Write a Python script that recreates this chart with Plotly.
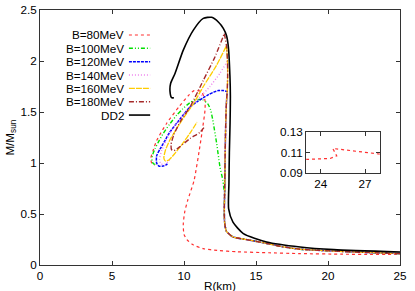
import plotly.graph_objects as go

# ---------------- data (R in km, M in Msun) ----------------
# shared hadronic branch used by B=100..180 (low mass -> high mass)
R_had = [25.0, 22.5, 20.4, 18.06, 16.8, 15.97, 14.58, 14.1, 13.4, 12.95, 12.82, 12.8, 12.82, 12.85, 12.9, 12.95, 13.0, 13.03, 13.02, 12.95, 12.8]
M_had = [0.112, 0.124, 0.137, 0.155, 0.18, 0.205, 0.243, 0.255, 0.275, 0.33, 0.42, 0.55, 0.7, 1.0, 1.4, 1.6, 1.7, 1.85, 2.0, 2.15, 2.27]

R_b80 = [28.0, 27.0, 26.0, 25.5, 25.19, 24.81, 25.08, 24.63, 24.0, 23.09, 21.0, 18.0, 15.9, 13.66, 12.3, 11.34, 10.6, 10.2, 10.0, 9.95, 10.05, 10.25, 10.7, 11.1, 11.25, 11.46, 11.45, 11.2, 10.7, 10.3, 9.7, 8.8, 8.1, 7.85, 7.7, 7.75, 7.99]
M_b80 = [0.1084, 0.110, 0.1112, 0.1122, 0.1132, 0.1138, 0.1067, 0.1042, 0.1038, 0.1033, 0.106, 0.112, 0.12, 0.13, 0.143, 0.16, 0.2, 0.25, 0.3, 0.4, 0.52, 0.63, 0.83, 1.16, 1.3, 1.52, 1.62, 1.7, 1.71, 1.66, 1.56, 1.39, 1.22, 1.12, 1.05, 1.0, 0.98]

R_b100 = [12.8, 12.7, 12.5, 12.27, 12.0, 11.85, 11.65, 11.3, 10.8, 10.4, 9.9, 9.5, 9.0, 8.56, 8.2, 7.99, 7.8, 7.78, 7.9, 8.05]
M_b100 = [0.72, 0.83, 0.96, 1.19, 1.42, 1.52, 1.58, 1.62, 1.62, 1.59, 1.53, 1.47, 1.38, 1.29, 1.2, 1.14, 1.07, 1.02, 0.99, 0.99]

R_b120 = [13.0, 12.73, 12.4, 12.15, 11.7, 11.34, 10.9, 10.42, 10.0, 9.49, 9.0, 8.68, 8.35, 8.1, 8.1, 8.25, 8.56, 8.85]
M_b120 = [1.7, 1.71, 1.71, 1.7, 1.67, 1.64, 1.6, 1.55, 1.48, 1.39, 1.3, 1.22, 1.14, 1.07, 1.0, 0.97, 0.97, 0.99]

R_b140 = [13.02, 12.5, 11.8, 11.0, 10.42, 9.8, 9.2, 8.75, 8.45, 8.3, 8.4, 8.7, 9.0]
M_b140 = [2.0, 1.88, 1.75, 1.63, 1.55, 1.44, 1.33, 1.22, 1.12, 1.04, 0.99, 0.99, 1.03]

R_b160 = [12.95, 12.27, 11.34, 10.65, 10.1, 9.5, 9.0, 8.7, 8.6, 8.7, 8.95, 9.4, 9.95, 10.5, 10.9]
M_b160 = [2.15, 1.96, 1.75, 1.58, 1.47, 1.34, 1.22, 1.12, 1.05, 1.02, 1.03, 1.1, 1.2, 1.31, 1.4]

R_b180 = [12.8, 12.15, 11.34, 10.42, 9.8, 9.3, 9.1, 9.14, 9.3, 9.72, 10.42, 11.1, 11.46]
M_b180 = [2.27, 2.04, 1.81, 1.55, 1.42, 1.28, 1.18, 1.13, 1.12, 1.16, 1.24, 1.3, 1.36]

R_dd2 = [25.0, 20.4, 18.06, 15.74, 14.12, 13.4, 13.1, 13.12, 13.15, 13.2, 13.22, 13.19, 13.08, 12.95, 12.73, 12.4, 11.92, 11.34, 10.65, 9.95, 9.375, 9.07, 9.03, 9.14, 9.3]
M_dd2 = [0.128, 0.151, 0.177, 0.226, 0.308, 0.42, 0.55, 0.8, 1.1, 1.4, 1.65, 1.85, 2.14, 2.25, 2.32, 2.38, 2.428, 2.418, 2.303, 2.107, 1.878, 1.78, 1.70, 1.64, 1.64]

x_ticks = [0, 5, 10, 15, 20, 25]
y_ticks = [0, 0.5, 1, 1.5, 2, 2.5]
inset_x_ticks = [24, 27]
inset_y_ticks = [0.09, 0.11, 0.13]

names = ["B=80MeV", "B=100MeV", "B=120MeV", "B=140MeV", "B=160MeV", "B=180MeV", "DD2"]
colors = ["#ff3030", "#00e000", "#0000ff", "#ee82ee", "#ffcc00", "#a52a2a", "#000000"]
dashes = ["3px,3px", "4px,2px,1px,2px,1px,2px", "3px,1px", "1px,2px", "6px,1px", "5px,2px,1px,2px", "solid"]
widths = [1.2, 1.4, 1.5, 1.4, 1.3, 1.4, 1.6]

curves = [
    (R_b80, M_b80),
    (R_had[:14] + R_b100, M_had[:14] + M_b100),
    (R_had[:17] + R_b120, M_had[:17] + M_b120),
    (R_had[:19] + R_b140, M_had[:19] + M_b140),
    (R_had[:20] + R_b160, M_had[:20] + M_b160),
    (R_had + R_b180, M_had + M_b180),
    (R_dd2, M_dd2),
]

fig = go.Figure()
for (r, m), n, c, d, w in zip(curves, names, colors, dashes, widths):
    fig.add_trace(go.Scatter(x=r, y=m, mode="lines", name=n, showlegend=False,
                             line=dict(color=c, dash=d, width=w, shape="spline", smoothing=0.6)))

# inset: zoom on B=80MeV at low mass
fig.add_trace(go.Scatter(x=R_b80, y=M_b80, mode="lines", showlegend=False, xaxis="x2", yaxis="y2",
                         line=dict(color=colors[0], dash=dashes[0], width=1.2)))

font = dict(family="Liberation Sans, Arial, sans-serif", size=11.7, color="#000")
axis_common = dict(showgrid=False, zeroline=False, ticks="inside", ticklen=4, tickcolor="#333",
                   showline=True, linecolor="#333", linewidth=1, mirror="allticks", tickfont=font,
                   automargin=False)

fig.update_layout(
    width=415, height=291,
    margin=dict(l=40, r=15, t=10, b=26),
    paper_bgcolor="white", plot_bgcolor="white",
    font=font,
    xaxis=dict(range=[0, 25], tickvals=x_ticks, domain=[0, 1], **axis_common),
    yaxis=dict(range=[0, 2.5], tickvals=y_ticks, ticktext=["0", "0.5", "1", "1.5", "2", "2.5"], **axis_common),
    xaxis2=dict(range=[23, 28], tickvals=inset_x_ticks, domain=[0.739, 0.944], anchor="y2", **axis_common),
    yaxis2=dict(range=[0.09, 0.13], tickvals=inset_y_ticks, domain=[0.36, 0.523], anchor="x2", **axis_common),
)

ann = [
    dict(x=0.5, y=-0.082, xref="paper", yref="paper", text="R(km)", showarrow=False,
         xanchor="center", yanchor="middle", font=font),
    dict(x=-0.083, y=0.5, xref="paper", yref="paper", text="M/M<sub>sun</sub>", showarrow=False,
         textangle=-90, xanchor="center", yanchor="middle", font=font),
]
# legend drawn gnuplot-style: right-aligned text, sample line on the right
shapes = []
row_y = [0.902, 0.85, 0.797, 0.745, 0.693, 0.64, 0.588]
for n, c, d, w, yy in zip(names, colors, dashes, widths, row_y):
    ann.append(dict(x=0.239, y=yy, xref="paper", yref="paper", text=n, showarrow=False,
                    xanchor="right", yanchor="middle", font=font))
    shapes.append(dict(type="line", xref="paper", yref="paper", x0=0.247, x1=0.306, y0=yy, y1=yy,
                       line=dict(color=c, dash=d, width=w)))
fig.update_layout(annotations=ann, shapes=shapes)

fig.write_html("out.html", config={"displayModeBar": False},
               post_script="document.body.style.margin='0';document.body.style.padding='0';")
